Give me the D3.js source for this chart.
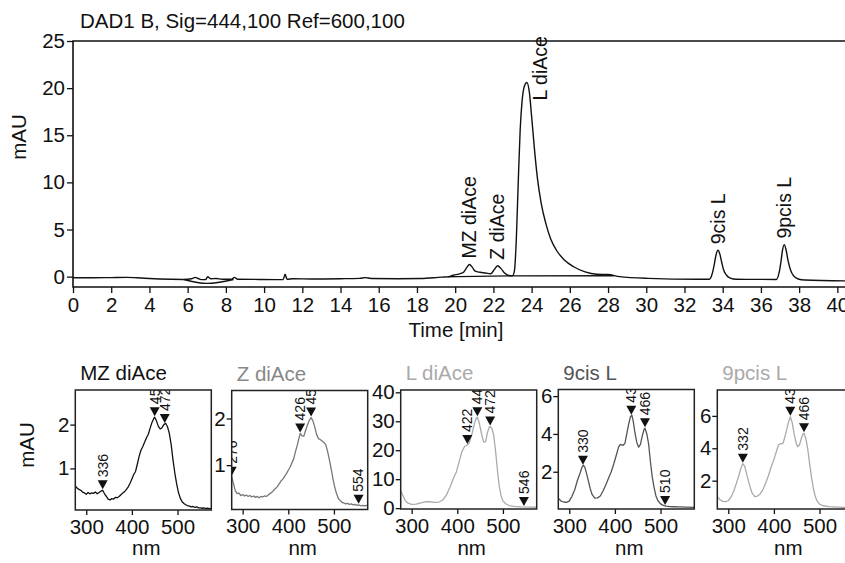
<!DOCTYPE html>
<html>
<head>
<meta charset="utf-8">
<script src="https://cdn.jsdelivr.net/npm/d3@7"></script>
<style>
  body { margin: 0; background: #fff; }
  svg { font-family: "Liberation Sans", Arial, sans-serif; }
</style>
</head>
<body>
<svg width="845" height="563"></svg>
<script>
// ---- chromatogram (time in min, mAU) ----
var chromTitle = "DAD1 B, Sig=444,100 Ref=600,100";
var timeTicks = [0,2,4,6,8,10,12,14,16,18,20,22,24,26,28,30,32,34,36,38,40];
var mauTicks = [0,5,10,15,20,25];
var chrom = [[0,-0.12],[1,-0.12],[2,-0.1],[2.8,-0.08],[3.6,-0.15],[4.5,-0.25],[5.8,-0.3],[6.2,-0.22],
  [6.4,-0.08],[6.55,-0.2],[6.7,-0.32],[6.95,-0.3],[7.05,-0.02],[7.2,-0.22],[7.5,-0.2],[7.8,-0.28],
  [8.3,-0.28],[8.45,-0.08],[8.6,-0.28],[9.8,-0.3],[11.0,-0.32],[11.1,0.25],[11.2,-0.28],[11.5,-0.22],
  [12.5,-0.25],[14,-0.22],[15,-0.18],[15.3,-0.1],[15.6,-0.2],[17,-0.22],[18.2,-0.2],[19.0,-0.1],
  [19.3,-0.05],[19.6,-0.03],[19.9,0.15],[20.3,0.35],[20.45,0.5],[20.6,0.95],[20.75,1.28],[20.9,0.98],
  [21.05,0.58],[21.3,0.46],[21.6,0.38],[21.85,0.3],[22.05,0.75],[22.22,1.16],[22.4,0.85],[22.6,0.35],
  [22.8,0.12],[23.0,0.08],[23.1,0.6],[23.2,4.0],[23.3,10.0],[23.4,15.5],[23.5,18.6],[23.62,20.2],
  [23.75,20.6],[23.88,19.6],[24.0,17.0],[24.15,13.5],[24.3,10.5],[24.5,7.8],[24.75,5.6],[25.0,4.0],
  [25.3,2.8],[25.7,1.8],[26.2,1.05],[26.8,0.5],[27.4,0.25],[28.0,0.22],[28.6,0.0],[30.1,-0.18],
  [32.7,-0.27],[33.3,-0.27],[33.45,0.3],[33.55,1.2],[33.65,2.3],[33.75,2.8],[33.85,2.4],[33.95,1.5],
  [34.05,0.7],[34.2,0.15],[34.4,-0.15],[34.7,-0.28],[36.8,-0.3],[36.95,0.4],[37.05,1.6],[37.13,2.8],
  [37.22,3.4],[37.32,2.8],[37.42,1.7],[37.55,0.7],[37.7,0.1],[37.95,-0.25],[38.3,-0.36],[40.4,-0.45]];
var dipLine = [[5.8,-0.3],[7.0,-0.72],[8.4,-0.3]];
var baseLine = [[19.6,-0.02],[23.0,0.08],[28.3,0.1]];
var peakNames = ["MZ diAce","Z diAce","L diAce","9cis L","9pcis L"];
var peakTimes = [20.75, 22.22, 23.75, 33.75, 37.22];
var peakHeights = [1.28, 1.16, 20.6, 2.8, 3.4];

// ---- UV/Vis spectra (nm, mAU) ----
var nmTicks = [300,400,500];
var mzSpec = [[276,0.6],[280,0.55],[284,0.52],[288,0.5],[292,0.46],[296,0.44],[300,0.41],[304,0.45],[308,0.42],
  [312,0.44],[316,0.43],[320,0.46],[324,0.42],[328,0.45],[332,0.48],[336,0.5],[340,0.42],[344,0.36],[348,0.3],
  [352,0.28],[356,0.31],[360,0.3],[364,0.34],[368,0.33],[372,0.36],[376,0.4],[380,0.44],[384,0.47],[388,0.52],
  [392,0.58],[396,0.66],[400,0.76],[404,0.86],[408,0.93],[412,1.1],[416,1.28],[420,1.42],[424,1.5],[428,1.6],
  [432,1.7],[436,1.78],[440,1.92],[444,2.05],[448,2.14],[450,2.17],[454,2.08],[458,1.96],[462,1.9],[466,1.93],
  [470,2.0],[474,2.03],[478,1.95],[482,1.8],[486,1.55],[490,1.2],[494,0.9],[498,0.65],[502,0.45],[506,0.32],
  [510,0.24],[514,0.2],[518,0.17],[522,0.15],[526,0.14],[530,0.12],[534,0.13],[538,0.11],[542,0.12],[546,0.1],
  [550,0.1],[554,0.09],[558,0.1],[562,0.08],[566,0.09],[570,0.08],[574,0.08]];
var zSpec = [[276,0.75],[280,0.6],[284,0.45],[288,0.39],[292,0.4],[296,0.35],[300,0.37],[304,0.34],[308,0.36],
  [312,0.33],[316,0.35],[320,0.32],[324,0.34],[328,0.31],[332,0.33],[336,0.3],[340,0.33],[344,0.32],[348,0.34],
  [352,0.33],[356,0.36],[360,0.39],[364,0.42],[368,0.46],[372,0.5],[376,0.54],[380,0.6],[384,0.66],[388,0.7],
  [392,0.76],[396,0.82],[400,0.89],[404,0.96],[408,1.05],[412,1.14],[416,1.3],[420,1.44],[424,1.6],[426,1.68],
  [430,1.63],[434,1.62],[438,1.75],[442,1.86],[446,1.96],[450,2.02],[454,1.95],[458,1.82],[462,1.66],[466,1.57],
  [470,1.55],[474,1.52],[478,1.49],[482,1.44],[486,1.3],[490,1.12],[494,0.92],[498,0.7],[502,0.52],[506,0.38],
  [510,0.28],[514,0.24],[518,0.2],[522,0.19],[526,0.17],[530,0.18],[534,0.16],[538,0.17],[542,0.15],[546,0.16],
  [550,0.14],[554,0.15],[558,0.13],[562,0.14],[566,0.13],[574,0.14]];
var lSpec = [[276,6.0],[280,4.6],[286,2.6],[292,1.7],[300,1.3],[310,1.4],[320,1.8],[330,2.2],[340,2.2],[350,2.0],
  [360,2.1],[368,2.8],[376,4.5],[384,7.2],[392,10.5],[398,12.5],[404,16],[410,19.5],[416,21.3],[422,21.8],
  [426,22.5],[432,25.5],[438,29.5],[442,31.2],[444,31.4],[448,29.5],[454,25],[458,22.8],[462,23],[466,26],
  [470,28],[472,28.2],[476,27.5],[480,25],[484,19.5],[488,13],[492,7.5],[496,4.2],[500,2.5],[506,1.5],
  [514,0.9],[524,0.6],[540,0.45],[560,0.35],[574,0.3]];
var cisSpec = [[276,0.6],[282,0.45],[288,0.4],[294,0.38],[300,0.45],[306,0.7],[312,1.05],[318,1.55],[324,1.95],
  [328,2.25],[331,2.35],[334,2.25],[338,1.9],[342,1.5],[346,1.1],[350,0.8],[356,0.6],[362,0.62],[368,0.72],
  [374,0.98],[380,1.3],[386,1.65],[392,2.0],[398,2.45],[404,2.95],[408,3.3],[412,3.45],[418,3.4],[422,3.5],
  [426,4.0],[430,4.5],[434,4.9],[437,5.0],[440,4.7],[444,4.05],[448,3.55],[452,3.3],[456,3.45],[460,3.9],
  [464,4.25],[466,4.3],[470,4.0],[474,3.45],[478,2.5],[482,1.7],[486,1.15],[490,0.72],[494,0.48],[500,0.3],
  [506,0.22],[512,0.18],[520,0.16],[530,0.15],[540,0.14],[556,0.13],[574,0.12]];
var pcisSpec = [[276,1.0],[282,0.82],[288,0.72],[294,0.7],[300,0.76],[306,0.98],[312,1.35],[318,1.85],[324,2.4],
  [328,2.8],[332,3.05],[336,2.9],[340,2.45],[344,2.0],[348,1.6],[352,1.25],[358,1.02],[364,1.05],[370,1.18],
  [376,1.45],[382,1.85],[388,2.3],[394,2.85],[400,3.3],[406,3.85],[410,4.2],[414,4.28],[420,4.3],[424,4.7],
  [428,5.15],[432,5.6],[436,5.95],[440,5.6],[444,4.95],[448,4.4],[452,4.1],[456,4.2],[460,4.6],[464,4.9],
  [466,4.93],[470,4.6],[474,4.0],[478,3.1],[482,2.3],[486,1.6],[490,1.1],[494,0.78],[500,0.55],[508,0.45],
  [520,0.4],[540,0.37],[560,0.35],[574,0.34]];
// labelled maxima / minima (nm)
var mzMarks = [336,450,472];
var zMarks = [276,426,450,554];
var lMarks = [422,444,472,546];
var cisMarks = [330,436,466,510];
var pcisMarks = [332,436,466];

var svg = d3.select("svg");
var fs = 20.5;

// ================= top chromatogram =================
var x = d3.scaleLinear().domain([0, 40.4]).range([73, 845]);
var y = d3.scaleLinear().domain([-1.1, 25]).range([287, 41]);

svg.append("text").attr("x", 80).attr("y", 28)
    .attr("font-size", fs).attr("fill", "#111").text(chromTitle);

var ya = svg.append("g").attr("transform", "translate(73,0)")
    .call(d3.axisLeft(y).tickValues(mauTicks).tickSize(6).tickPadding(2));
ya.select(".domain").remove();
ya.selectAll("text").attr("font-size", fs).attr("font-family", null).attr("fill", "#111");
ya.selectAll("line").attr("stroke", "#111").attr("stroke-width", 1.3);

var xa = svg.append("g").attr("transform", "translate(0,287)")
    .call(d3.axisBottom(x).tickValues(timeTicks).tickSize(6).tickPadding(4));
xa.select(".domain").remove();
xa.selectAll("text").attr("font-size", fs).attr("font-family", null).attr("fill", "#111");
xa.selectAll("line").attr("stroke", "#111").attr("stroke-width", 1.3);

// frame: left, bottom, top
svg.append("path").attr("fill", "none").attr("stroke", "#111").attr("stroke-width", 1.6)
    .attr("d", "M845,41H73V287H845");

svg.append("text").attr("transform", "translate(26,137) rotate(-90)")
    .attr("text-anchor", "middle").attr("font-size", fs).attr("fill", "#111").text("mAU");
svg.append("text").attr("x", 456).attr("y", 337)
    .attr("text-anchor", "middle").attr("font-size", fs).attr("fill", "#111").text("Time [min]");

var line = d3.line()
    .x(function(d) { return x(d[0]); })
    .y(function(d) { return y(d[1]); })
    .curve(d3.curveMonotoneX);

[chrom, dipLine, baseLine].forEach(function(s) {
  svg.append("path").datum(s)
      .attr("fill", "none").attr("stroke", "#111").attr("stroke-width", 1.4)
      .attr("stroke-linejoin", "round").attr("d", line);
});

peakNames.forEach(function(name, i) {
  var px = x(peakTimes[i]), py = y(peakHeights[i]) - 6;
  if (name == "L diAce") { px = px + 13; py = py + 24; }
  svg.append("text")
      .attr("transform", "translate(" + px + "," + py + ") rotate(-90)")
      .attr("dy", "0.35em").attr("font-size", 19.5).attr("fill", "#111").text(name);
});

// ================= spectra panels =================
var panels = [
  {name: "MZ diAce", spec: mzSpec, marks: mzMarks, col: "#111", tcol: "#111", l: 75.3, t: 390, b: 510, yd: [0.05, 2.79], yt: [1,2]},
  {name: "Z diAce", spec: zSpec, marks: zMarks, col: "#777", tcol: "#888", l: 231.7, t: 390.5, b: 509.5, yd: [0.05, 2.6], yt: [1,2]},
  {name: "L diAce", spec: lSpec, marks: lMarks, col: "#aaa", tcol: "#aaa", l: 400.7, t: 390, b: 509, yd: [-0.3, 40.8], yt: [0,10,20,30,40]},
  {name: "9cis L", spec: cisSpec, marks: cisMarks, col: "#555", tcol: "#555", l: 558.3, t: 389.5, b: 509, yd: [0.03, 6.35], yt: [2,4,6]},
  {name: "9pcis L", spec: pcisSpec, marks: pcisMarks, col: "#aaa", tcol: "#aaa", l: 717.3, t: 390, b: 509, yd: [0.25, 7.6], yt: [2,4,6]}
];
var pw = 136;

panels.forEach(function(p, i) {
  var sx = d3.scaleLinear().domain([276, 574]).range([p.l, p.l + pw]);
  var sy = d3.scaleLinear().domain(p.yd).range([p.b, p.t]);
  var g = svg.append("g");

  g.append("clipPath").attr("id", "clip" + i)
    .append("rect").attr("x", p.l).attr("y", p.t).attr("width", pw).attr("height", p.b - p.t);

  var ax = g.append("g").attr("transform", "translate(0," + p.b + ")")
      .call(d3.axisBottom(sx).tickValues(nmTicks).tickSize(5).tickPadding(4));
  var ay = g.append("g").attr("transform", "translate(" + p.l + ",0)")
      .call(d3.axisLeft(sy).tickValues(p.yt).tickFormat(d3.format("d")).tickSize(5).tickPadding(1));
  [ax, ay].forEach(function(a) {
    a.select(".domain").remove();
    a.selectAll("text").attr("font-size", fs).attr("font-family", null).attr("fill", "#111");
    a.selectAll("line").attr("stroke", "#111").attr("stroke-width", 1.3);
  });

  var sline = d3.line()
      .x(function(d) { return sx(d[0]); })
      .y(function(d) { return sy(d[1]); });

  var inner = g.append("g").attr("clip-path", "url(#clip" + i + ")");
  inner.append("path").datum(p.spec)
      .attr("fill", "none").attr("stroke", p.col).attr("stroke-width", 1.3)
      .attr("stroke-linejoin", "round").attr("d", sline);

  var valueAt = function(nm) {
    var k = d3.bisector(function(d) { return d[0]; }).left(p.spec, nm);
    k = Math.max(1, Math.min(p.spec.length - 1, k));
    var a = p.spec[k - 1], c = p.spec[k];
    return a[1] + (c[1] - a[1]) * (nm - a[0]) / (c[0] - a[0]);
  };

  p.marks.forEach(function(nm) {
    var mx = sx(nm), my = sy(valueAt(nm)) - 1;
    inner.append("path")
        .attr("d", "M" + mx + "," + my + "l-5,-9h10z")
        .attr("fill", "#111");
    inner.append("text")
        .attr("transform", "translate(" + mx + "," + (my - 12) + ") rotate(-90)")
        .attr("dy", "0.35em").attr("font-size", 14).attr("fill", "#111").text(nm);
  });

  g.append("rect").attr("x", p.l).attr("y", p.t).attr("width", pw).attr("height", p.b - p.t)
      .attr("fill", "none").attr("stroke", "#222").attr("stroke-width", 1.5);

  g.append("text").attr("x", p.l + 5).attr("y", p.t - 10)
      .attr("font-size", fs).attr("fill", p.tcol).text(p.name);
  g.append("text").attr("x", p.l + pw / 2 + 3).attr("y", 555)
      .attr("text-anchor", "middle").attr("font-size", fs).attr("fill", "#111").text("nm");
});

svg.append("text").attr("transform", "translate(34,445) rotate(-90)")
    .attr("text-anchor", "middle").attr("font-size", fs).attr("fill", "#111").text("mAU");
</script>
</body>
</html>
